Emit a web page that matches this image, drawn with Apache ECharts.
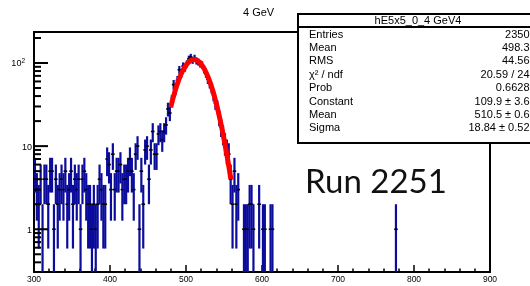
<!DOCTYPE html>
<html>
<head>
<meta charset="utf-8">
<script src="https://cdn.jsdelivr.net/npm/echarts@6/dist/echarts.min.js"></script>
<style>
  html, body { margin: 0; padding: 0; background: #fff; }
  #chart { width: 530px; height: 286px; }
</style>
</head>
<body>
<div id="chart"></div>
<script>
// histogram binning (ROOT TH1, 2.5 wide bins starting at 300)
const BIN_START = 300;
const BIN_WIDTH = 2.5;
// bin contents 300 -> 620
const binCounts = [
  5, 3, 2, 4,   1, 4, 4, 2,   5, 5, 1, 4,   2, 3, 4, 3,
  5, 2, 3, 5,   2, 4, 3, 4,   1, 4, 5, 3,   2, 2, 1, 2,
  1, 2, 4, 3,   2, 2, 7, 6,   3, 8, 3, 5,   5, 6, 3, 4,
  4, 5, 7, 5,   3, 8, 10, 1,  5, 2, 9, 10,  4, 9, 15, 8,
  8, 14, 15, 12, 15, 18, 28, 25, 35, 55, 48, 62, 83, 75, 92, 88,
  98, 112, 118, 108, 115, 106, 103, 98, 95, 84, 75, 64, 57, 50, 41, 33,
  30, 22, 17, 14, 11, 9, 8, 4,  2, 5, 2, 3,   0, 0, 1, 1,
  1, 2, 2, 1,   0, 0, 2, 0,   1, 1, 0, 0,   1, 1, 0, 0
];
// lone entries far out
const extraCenters = [776.25];
const extraCounts = [1];

// gaussian fit curve, sampled from the red line
const fitX = [480, 485, 490, 495, 500, 505, 510, 515, 520, 525, 530, 535, 540, 545, 550, 555, 559];
const fitY = [29.7, 44, 60.8, 78.4, 94.1, 105.3, 109.9, 106.8, 96.8, 81.7, 64.3, 47.2, 32.2, 20.5, 12.2, 6.8, 4.0];

// axes
const X_MIN = 300, X_MAX = 900;
const Y_MIN = 0.306, Y_MAX = 236;
const yMajorTicks = [1, 10, 100];
const yMajorLabels = ['1', '10', '10{sup|2}'];
const yMinorTicks = [0.4, 0.5, 0.6, 0.7, 0.8, 0.9, 2, 3, 4, 5, 6, 7, 8, 9,
  20, 30, 40, 50, 60, 70, 80, 90, 200];

// stats box
const statsTitle = 'hE5x5_0_4 GeV4';
const statsNames = ['Entries', 'Mean', 'RMS', 'χ² / ndf', 'Prob', 'Constant', 'Mean', 'Sigma'];
const statsValues = ['2350', '498.3', '44.56', '20.59 / 24', '0.6628', '109.9 ± 3.6', '510.5 ± 0.6', '18.84 ± 0.52'];

const BLUE = '#0c0c9c';
const FONT = 'Liberation Sans, Arial, sans-serif';

const histData = [];
binCounts.forEach((c, i) => {
  if (c > 0) histData.push([BIN_START + BIN_WIDTH * (i + 0.5), c]);
});
extraCenters.forEach((x, i) => histData.push([x, extraCounts[i]]));

const tickData = yMajorTicks.map((v, i) => [X_MIN, v, 1, i])
  .concat(yMinorTicks.map(v => [X_MIN, v, 0, -1]));

function renderBin(params, api) {
  const x = api.value(0), v = api.value(1);
  const err = Math.sqrt(v);
  const top = api.coord([x, Math.min(v + err, Y_MAX)]);
  const bot = api.coord([x, Math.max(v - err, Y_MIN)]);
  const mid = api.coord([x, v]);
  return {
    type: 'group',
    children: [
      { type: 'rect', shape: { x: mid[0] - 1.1, y: top[1], width: 2.2, height: bot[1] - top[1] },
        style: { fill: BLUE } },
      { type: 'rect', shape: { x: mid[0] - 1.8, y: mid[1] - 0.8, width: 3.6, height: 1.6 },
        style: { fill: '#000' } }
    ]
  };
}

function renderTick(params, api) {
  const p = api.coord([api.value(0), api.value(1)]);
  const major = api.value(2) === 1;
  const len = major ? 14 : 7;
  const children = [{
    type: 'line',
    shape: { x1: p[0], y1: p[1], x2: p[0] + len, y2: p[1] },
    style: { stroke: '#000', lineWidth: 2 }
  }];
  if (major) {
    const idx = api.value(3);
    children.push({
      type: 'text',
      x: p[0] - (idx === 2 ? 9 : 2),
      y: p[1] + 1,
      style: {
        text: yMajorLabels[idx], fill: '#000', font: '9px ' + FONT,
        align: 'right', verticalAlign: 'middle',
        rich: { sup: { fontSize: 6.5, fontFamily: FONT, verticalAlign: 'top', padding: [0, 0, 6, 0] } }
      }
    });
  }
  return { type: 'group', children };
}

const statsElements = [
  { type: 'rect', shape: { x: 298, y: 14, width: 260, height: 129 },
    style: { fill: '#fff', stroke: '#000', lineWidth: 2 } },
  { type: 'line', shape: { x1: 298, y1: 27, x2: 540, y2: 27 },
    style: { stroke: '#000', lineWidth: 2 } },
  { type: 'text', x: 418, y: 21, style: { text: statsTitle, font: '11px ' + FONT, fill: '#000', align: 'center', verticalAlign: 'middle' } }
];
statsNames.forEach((name, i) => {
  const y = 34.5 + i * 13.4;
  statsElements.push({ type: 'text', x: 309, y,
    style: { text: name, font: '11px ' + FONT, fill: '#000', align: 'left', verticalAlign: 'middle' } });
  statsElements.push({ type: 'text', x: 529.5, y,
    style: { text: statsValues[i], font: '11px ' + FONT, fill: '#000', align: 'right', verticalAlign: 'middle' } });
});

const chart = echarts.init(document.getElementById('chart'), null, { renderer: 'canvas' });
chart.setOption({
  animation: false,
  backgroundColor: '#fff',
  grid: { left: 34, right: 40, top: 32, bottom: 14, show: true, borderColor: '#000', borderWidth: 2 },
  xAxis: {
    type: 'value', min: X_MIN, max: X_MAX, interval: 100,
    axisLine: { lineStyle: { color: '#000', width: 2 } },
    axisTick: { inside: true, length: 7, lineStyle: { color: '#000', width: 1.5 } },
    minorTick: { show: true, splitNumber: 5, length: 3.5, lineStyle: { color: '#000', width: 1.5 } },
    axisLabel: { color: '#000', fontSize: 8.5, fontFamily: FONT, margin: 3 },
    splitLine: { show: false }
  },
  yAxis: {
    type: 'log', logBase: 10, min: Y_MIN, max: Y_MAX,
    axisLine: { show: true, lineStyle: { color: '#000', width: 2 } },
    axisTick: { show: false },
    axisLabel: { show: false },
    splitLine: { show: false }
  },
  series: [
    { type: 'custom', name: 'hist', data: histData, renderItem: renderBin, clip: true, z: 2 },
    { type: 'line', name: 'fit', data: fitX.map((x, i) => [x, fitY[i]]), smooth: true,
      showSymbol: false, lineStyle: { color: '#ff0000', width: 5 }, z: 3 },
    { type: 'custom', name: 'yticks', data: tickData, renderItem: renderTick, clip: false, z: 4 }
  ],
  graphic: [
    { type: 'text', left: 243, top: 7, style: { text: '4 GeV', font: '11px ' + FONT, fill: '#000' } },
    { type: 'text', left: 305, top: 166, style: { text: 'Run 2251', font: '33px Lato, sans-serif', fill: '#111' } },
    { type: 'group', z: 10, children: statsElements }
  ]
});
</script>
</body>
</html>
